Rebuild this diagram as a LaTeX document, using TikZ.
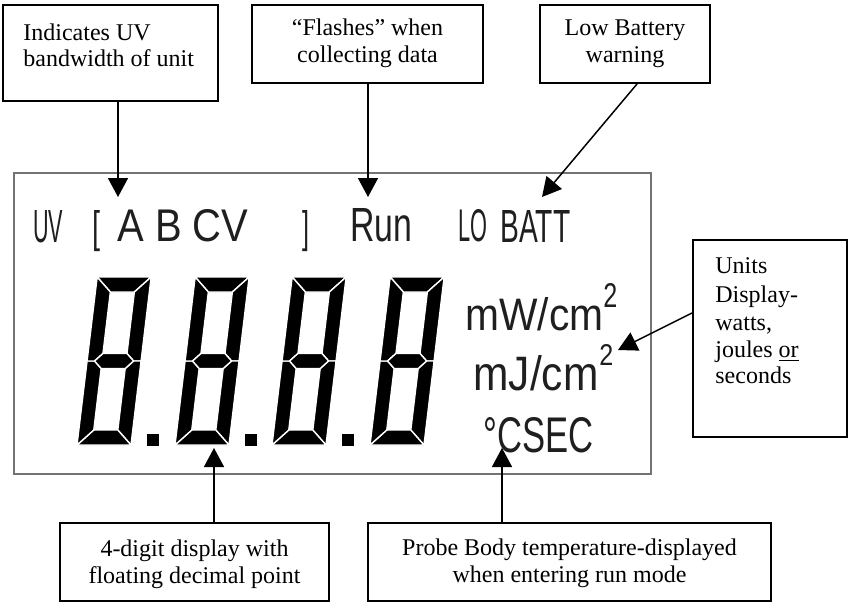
\documentclass[tikz,border=0pt]{standalone}
\usepackage{fontspec}
\setmainfont{Liberation Serif}
\newfontfamily\lcdfont{Liberation Sans}
\usetikzlibrary{arrows.meta}
\newcommand\lcdtxt[3]{\resizebox{#1}{#2}{\lcdfont #3}}
\tikzset{
  box/.style={draw, line width=1pt, inner sep=0pt},
  conn/.style={line width=0.75pt, -{Triangle[length=9.5pt,width=10pt]}},
  lbl/.style={inner sep=0pt, font=\fontsize{12}{13.5}\selectfont},
  lcd/.style={inner sep=0pt, anchor=base west, text=black!88},
  seg/.style={fill=black, draw=white, line width=0.7pt, line join=round},
}
\newcommand\segdigit[1]{%
  \begin{scope}[shift={(#1,445)}, xslant=0.12]
    \filldraw[seg] (0,-168) -- (54,-168) -- (39,-153) -- (15,-153) -- cycle;
    \filldraw[seg] (54,-168) -- (54,-84) -- (46.5,-84) -- (39,-91.5) -- (39,-153) -- cycle;
    \filldraw[seg] (54,-84) -- (54,0) -- (39,-15) -- (39,-76.5) -- (46.5,-84) -- cycle;
    \filldraw[seg] (0,0) -- (54,0) -- (39,-15) -- (15,-15) -- cycle;
    \filldraw[seg] (0,0) -- (0,-84) -- (7.5,-84) -- (15,-76.5) -- (15,-15) -- cycle;
    \filldraw[seg] (0,-168) -- (0,-84) -- (7.5,-84) -- (15,-91.5) -- (15,-153) -- cycle;
    \filldraw[seg] (7.5,-84) -- (15,-91.5) -- (39,-91.5) -- (46.5,-84) -- (39,-76.5) -- (15,-76.5) -- cycle;
  \end{scope}}
\newcommand\segdp[1]{\fill[black] ({#1+70},434) rectangle ({#1+82},446);}
\begin{document}
\begin{tikzpicture}[x=0.5pt, y=-0.5pt]
\useasboundingbox (0,0) rectangle (848,605);

% callout boxes
\node[box, minimum width=107.5pt, minimum height=48pt] (b1) at (110.5,53) {};
\node[box, minimum width=115.5pt, minimum height=39pt] (b2) at (367.5,44) {};
\node[box, minimum width=85pt, minimum height=39pt] (b3) at (625,44) {};
\node[box, minimum width=77pt, minimum height=98.5pt] (b4) at (770,338.5) {};
\node[box, minimum width=134.5pt, minimum height=39pt] (b5) at (194.5,562) {};
\node[box, minimum width=201.5pt, minimum height=39pt] (b6) at (569.5,562) {};

\node[lbl, anchor=base west] at (23,40) {Indicates UV};
\node[lbl, anchor=base west] at (23,67) {bandwidth of unit};
\node[lbl, anchor=base] at (367.5,35) {“Flashes” when};
\node[lbl, anchor=base] at (367.5,62) {collecting data};
\node[lbl, anchor=base] at (625,35) {Low Battery};
\node[lbl, anchor=base] at (625,62) {warning};
\node[lbl, anchor=base west] at (715,273) {Units};
\node[lbl, anchor=base west] at (715,302) {Display-};
\node[lbl, anchor=base west] at (715,330) {watts,};
\node[lbl, anchor=base west] at (715,357) {joules \underline{or}};
\node[lbl, anchor=base west] at (715,383) {seconds};
\node[lbl, anchor=base] at (194.5,556) {4-digit display with};
\node[lbl, anchor=base] at (194.5,583) {floating decimal point};
\node[lbl, anchor=base] at (569.5,555) {Probe Body temperature-displayed};
\node[lbl, anchor=base] at (569.5,582) {when entering run mode};

% LCD panel
\node[draw=black!55, line width=1pt, minimum width=318.5pt, minimum height=150.5pt, inner sep=0pt] (lcd) at (332.5,323.5) {};

\node[lcd] (uv) at (33,242) {\lcdtxt{15pt}{16pt}{UV}};
\node[lcd] (lb) at (92,242) {\lcdtxt{4pt}{16pt}{[}};
\node[lcd] (abc) at (117,242) {\lcdtxt{65.5pt}{16pt}{A B CV}};
\node[lcd] (rb) at (302,242) {\lcdtxt{3.5pt}{16pt}{]}};
\node[lcd] (run) at (350,242) {\lcdtxt{31pt}{16.5pt}{Run}};
\node[lcd] (lo) at (458,242) {\lcdtxt{14.5pt}{16pt}{LO}};
\node[lcd] (batt) at (500,242) {\lcdtxt{35pt}{16pt}{BATT}};

\node[lcd] (mw) at (465,330) {\lcdtxt{69pt}{16.5pt}{mW/cm}};
\node[lcd] (mw2) at (603,307) {\lcdtxt{7pt}{12pt}{2}};
\node[lcd] (mj) at (473,390) {\lcdtxt{62.5pt}{17.5pt}{mJ/cm}};
\node[lcd] (mj2) at (599,365) {\lcdtxt{7pt}{10.5pt}{2}};
\node[lcd] (csec) at (483,452) {\lcdtxt{55pt}{17.5pt}{°CSEC}};

\segdigit{77}\segdp{77}
\segdigit{175}\segdp{175}
\segdigit{272}\segdp{272}
\segdigit{370}

% connectors
\coordinate (t1) at (118,197);
\coordinate (t2) at (368,197);
\coordinate (t3) at (542,197);
\coordinate (s3) at (637,0);
\coordinate (t4) at (618,350);
\coordinate (s4) at (0,313);
\coordinate (t5) at (214,448);
\coordinate (t6) at (502,448);
\draw[conn] (b1.south -| t1) -- (t1);
\draw[conn] (b2.south -| t2) -- (t2);
\draw[conn] (b3.south -| s3) -- (t3);
\draw[conn] (b4.west |- s4) -- (t4);
\draw[conn] (b5.north -| t5) -- (t5);
\draw[conn] (b6.north -| t6) -- (t6);
\end{tikzpicture}
\end{document}
